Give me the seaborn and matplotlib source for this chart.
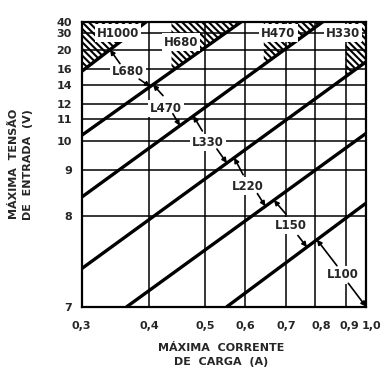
import numpy as np
import pandas as pd
import matplotlib
matplotlib.use("Agg")
import matplotlib.pyplot as plt
import matplotlib.transforms as mtransforms
import seaborn as sns

# axis ticks
current_ticks = [0.3, 0.4, 0.5, 0.6, 0.7, 0.8, 0.9, 1.0]
current_labels = ["0,3", "0,4", "0,5", "0,6", "0,7", "0,8", "0,9", "1,0"]
voltage_ticks = [7, 8, 9, 10, 11, 12, 14, 16, 20, 30, 40]

# diagonal boundaries: where each one enters and leaves the grid (A, V)
line_start_current = [0.3, 0.3, 0.3, 0.3, 0.367, 0.554]
line_start_voltage = [15.7, 10.25, 8.41, 7.42, 7.0, 7.0]
line_end_current = [0.396, 0.59, 0.825, 1.0, 1.0, 1.0]
line_end_voltage = [40, 40, 40, 17.5, 10.34, 8.28]

# hatched zones above the boundaries
hatch_names = ["H1000", "H680", "H470", "H330"]
hatch_from = [0.3, 0.44, 0.645, 0.9]
hatch_label_current = [0.354, 0.457, 0.681, 0.892]
hatch_label_voltage = [30, 24.7, 30, 30]

# bands between boundaries
band_names = ["L680", "L470", "L330", "L220", "L150", "L100"]
band_label_current = [0.369, 0.43, 0.507, 0.605, 0.716, 0.89]
band_label_voltage = [15.75, 11.7, 9.95, 8.65, 7.9, 7.35]
band_upper_hit = [0.342, 0.407, 0.479, 0.572, 0.670, 0.805]
band_lower_hit = [0.402, 0.455, 0.554, 0.649, 0.771, 1.0]

# the printed grid is spaced by hand, so each axis maps through its own tick spacing
x_spacing = [0, 0.237, 0.434, 0.576, 0.719, 0.822, 0.928, 1]
y_spacing = [0, 0.318, 0.480, 0.582, 0.659, 0.711, 0.778, 0.834, 0.901, 0.960, 1]


def fx(v):
    return np.interp(v, current_ticks, x_spacing)


def fx_inv(f):
    return np.interp(f, x_spacing, current_ticks)


def fy(v):
    return np.interp(v, voltage_ticks, y_spacing)


def fy_inv(f):
    return np.interp(f, y_spacing, voltage_ticks)


def on_line(k, c):
    # voltage of boundary k at current c (boundaries are straight on the page)
    x0, x1 = fx(line_start_current[k]), fx(line_end_current[k])
    y0, y1 = fy(line_start_voltage[k]), fy(line_end_voltage[k])
    t = (fx(c) - x0) / (x1 - x0)
    return float(fy_inv(y0 + t * (y1 - y0)))


sns.set_style("white")
plt.rcParams["font.family"] = ["DejaVu Sans"]
plt.rcParams["font.weight"] = "bold"
plt.rcParams["hatch.linewidth"] = 1.5

fig = plt.figure(figsize=(3.8, 3.89), dpi=100)
ax = fig.add_axes([0.215, 0.2116, 0.7482, 0.7326])

rows = []
for k in range(len(line_start_current)):
    rows.append({"line": k, "current": line_start_current[k], "voltage": line_start_voltage[k]})
    rows.append({"line": k, "current": line_end_current[k], "voltage": line_end_voltage[k]})
df = pd.DataFrame(rows)
sns.lineplot(data=df, x="current", y="voltage", units="line", estimator=None,
             sort=False, color="black", linewidth=2.4, legend=False, ax=ax)

ax.set_xscale("function", functions=(fx, fx_inv))
ax.set_yscale("function", functions=(fy, fy_inv))
ax.set_xlim(current_ticks[0], current_ticks[-1])
ax.set_ylim(voltage_ticks[0], voltage_ticks[-1])

# hatched zones
top = voltage_ticks[-1]
for k, c0 in enumerate(hatch_from):
    xs = [c0, c0, line_end_current[k]]
    ys = [top, on_line(k, c0), line_end_voltage[k]]
    if line_end_voltage[k] < top:
        xs.append(current_ticks[-1])
        ys.append(top)
    ax.fill(xs, ys, facecolor="none", edgecolor="black", hatch="\\" * 5,
            linewidth=0, zorder=1.5)

for name, c, v in zip(hatch_names, hatch_label_current, hatch_label_voltage):
    ax.text(c, v, name, ha="center", va="center", fontsize=8.5, zorder=5,
            bbox=dict(facecolor="white", edgecolor="none", pad=1.5))

arrow = dict(arrowstyle="-|>", color="black", lw=1.2, mutation_scale=7,
             shrinkA=0, shrinkB=0)
up_offsets = [(10, -14), (10, -11), (9, -15), (9, -17), (12, -14), (20, -26)]
down_offsets = [(-11, 7.5), (-7, 12), (-10, 14), (-8, 12.7), (-9, 11.6), (-17.7, 23.4)]
for i, name in enumerate(band_names):
    ax.text(band_label_current[i], band_label_voltage[i], name, ha="center",
            va="center", fontsize=8.5, zorder=5,
            bbox=dict(facecolor="white", edgecolor="none", pad=1.5))
    cu = band_upper_hit[i]
    ax.annotate("", xy=(cu, on_line(i, cu)), xytext=up_offsets[i],
                textcoords="offset pixels", arrowprops=arrow, zorder=6)
    cl = band_lower_hit[i]
    vl = on_line(i + 1, cl) if i + 1 < len(line_start_current) else voltage_ticks[0]
    ax.annotate("", xy=(cl, vl), xytext=down_offsets[i],
                textcoords="offset pixels", arrowprops=arrow, zorder=6)

ax.set_xticks(current_ticks, current_labels)
ax.set_yticks(voltage_ticks, [str(v) for v in voltage_ticks])
ax.minorticks_off()
ax.grid(True, color="black", linewidth=1.1)
ax.set_axisbelow(True)
ax.tick_params(axis="both", length=0, labelsize=8)
ax.tick_params(axis="x", pad=10)
ax.tick_params(axis="y", pad=7)
for s in ax.spines.values():
    s.set_color("black")
    s.set_linewidth(1.6)

# the crowded labels at the right end sit a little to the right of their lines
nudges = [0, 0, 0, 0, 0, 6, 4, 5]
for lab, dx in zip(ax.get_xticklabels(), nudges):
    lab.set_transform(lab.get_transform()
                      + mtransforms.ScaledTranslation(dx / 100, 0, fig.dpi_scale_trans))

ax.set_xlabel("MÁXIMA  CORRENTE\nDE  CARGA  (A)", fontsize=8, fontweight="bold",
              linespacing=1.5)
ax.xaxis.set_label_coords(0.49, -0.127)
ax.set_ylabel("MÁXIMA  TENSÃO\nDE  ENTRADA  (V)", fontsize=8, fontweight="bold",
              linespacing=1.5)
ax.yaxis.set_label_coords(-0.171, 0.5)

fig.savefig("out.png", dpi=100)
